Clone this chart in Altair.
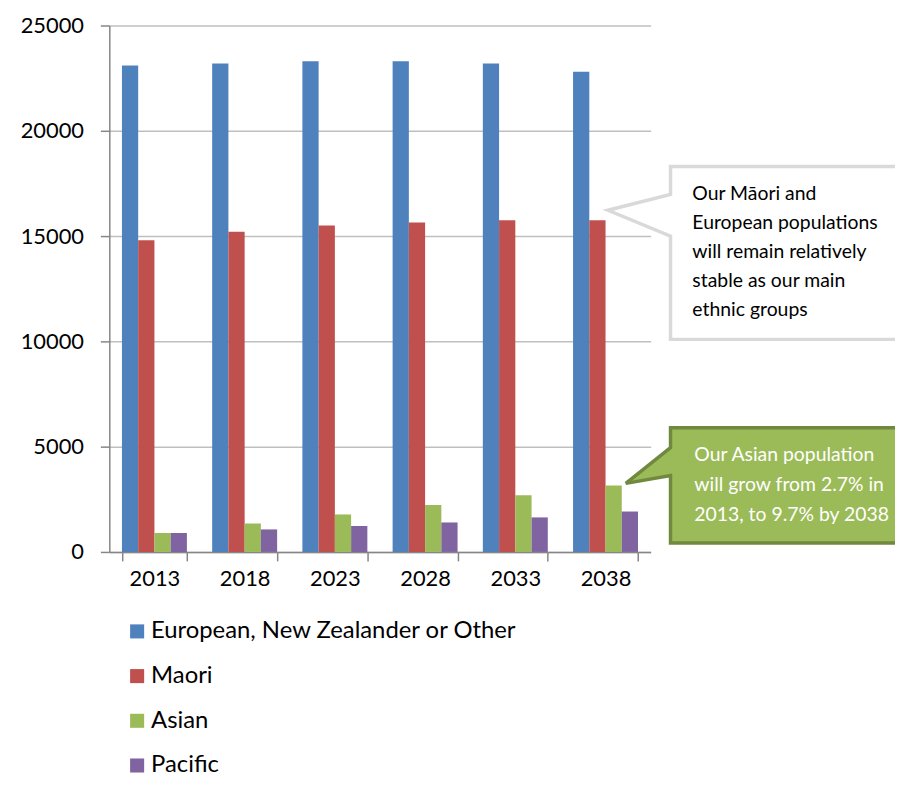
import altair as alt
import pandas as pd

# ---- data ----
years = ["2013", "2018", "2023", "2028", "2033", "2038"]
series = ["European, New Zealander or Other", "Maori", "Asian", "Pacific"]
european = [23100, 23200, 23300, 23300, 23200, 22800]
maori = [14800, 15200, 15500, 15650, 15750, 15750]
asian = [900, 1350, 1780, 2230, 2690, 3150]
pacific = [900, 1070, 1230, 1400, 1640, 1920]
y_ticks = [0, 5000, 10000, 15000, 20000, 25000]

note_grey = ["Our Māori and", "European populations", "will remain relatively",
             "stable as our main", "ethnic groups"]
note_green = ["Our Asian population", "will grow from 2.7% in", "2013, to 9.7% by 2038"]

# ---- styles / layout ----
colors = ["#4F81BD", "#C0504D", "#9BBB59", "#8064A2"]
FONT = "Lato"
W, H = 545, 530
AXIS_GREY = "#868686"

rows = []
for name, vals in zip(series, [european, maori, asian, pacific]):
    for yr, v in zip(years, vals):
        rows.append({"year": yr, "group": name, "value": v})
df = pd.DataFrame(rows)

bars = alt.Chart(df).mark_bar(opacity=1).encode(
    x=alt.X("year:N", sort=years, title=None,
            scale=alt.Scale(paddingInner=0.28, paddingOuter=0.14),
            axis=alt.Axis(labelAngle=0, tickBand="extent", tickSize=9, labelPadding=8,
                          domainColor=AXIS_GREY, tickColor=AXIS_GREY, domainWidth=1.5,
                          tickWidth=1.5, labelFontSize=22, labelColor="#000",
                          labelFont=FONT, grid=False)),
    xOffset=alt.XOffset("group:N", sort=series),
    y=alt.Y("value:Q", title=None, scale=alt.Scale(domain=[0, 25000], nice=False),
            axis=alt.Axis(values=y_ticks, format="d", tickSize=9, labelPadding=17,
                          domainColor=AXIS_GREY, tickColor=AXIS_GREY, domainWidth=1.5,
                          tickWidth=1.5, gridColor="#BFBFBF", gridWidth=1.5,
                          labelFontSize=22, labelColor="#000", labelFont=FONT)),
    color=alt.Color("group:N", sort=series,
                    scale=alt.Scale(domain=series, range=colors),
                    legend=alt.Legend(title=None, orient="none", legendX=16, legendY=598,
                                      direction="vertical", symbolType="square",
                                      symbolSize=200, symbolStrokeWidth=0,
                                      labelFontSize=24, labelFont=FONT, labelColor="#000",
                                      rowPadding=21, labelOffset=2, labelLimit=0)),
)

one = pd.DataFrame({"k": [0]})

grey_path = "M565,142 L820,142 L820,316 L565,316 L565,212 L502,186 L565,170 Z"
green_path = "M565,405 L820,405 L820,521 L565,521 L565,453 L520,461 L565,425 Z"

grey_box = alt.Chart(one).mark_point(
    shape=grey_path, size=4, filled=True, fill="#FFFFFF", stroke="#D9D9D9",
    strokeWidth=3.5, opacity=1, strokeJoin="miter"
).encode(x=alt.value(0), y=alt.value(0))

green_box = alt.Chart(one).mark_point(
    shape=green_path, size=4, filled=True, fill="#9BBB59", stroke="#71893F",
    strokeWidth=3.5, opacity=1, strokeJoin="miter"
).encode(x=alt.value(0), y=alt.value(0))

grey_text = alt.Chart(one).mark_text(
    text=note_grey, align="left", baseline="alphabetic", lineHeight=29.2,
    font=FONT, fontSize=19.5, color="#000000"
).encode(x=alt.value(587), y=alt.value(175.3))

green_text = alt.Chart(one).mark_text(
    text=note_green, align="left", baseline="alphabetic", lineHeight=30,
    font=FONT, fontSize=19.5, color="#FFFFFF"
).encode(x=alt.value(589), y=alt.value(438.7))

chart = alt.layer(bars, grey_box, green_box, grey_text, green_text).properties(
    width=W, height=H,
    autosize=alt.AutoSizeParams(type="none"),
    padding={"left": 102, "top": 15, "right": 246, "bottom": 231},
).configure_view(strokeWidth=0)

chart.save("out.html", embed_options={"renderer": "svg", "actions": False})
